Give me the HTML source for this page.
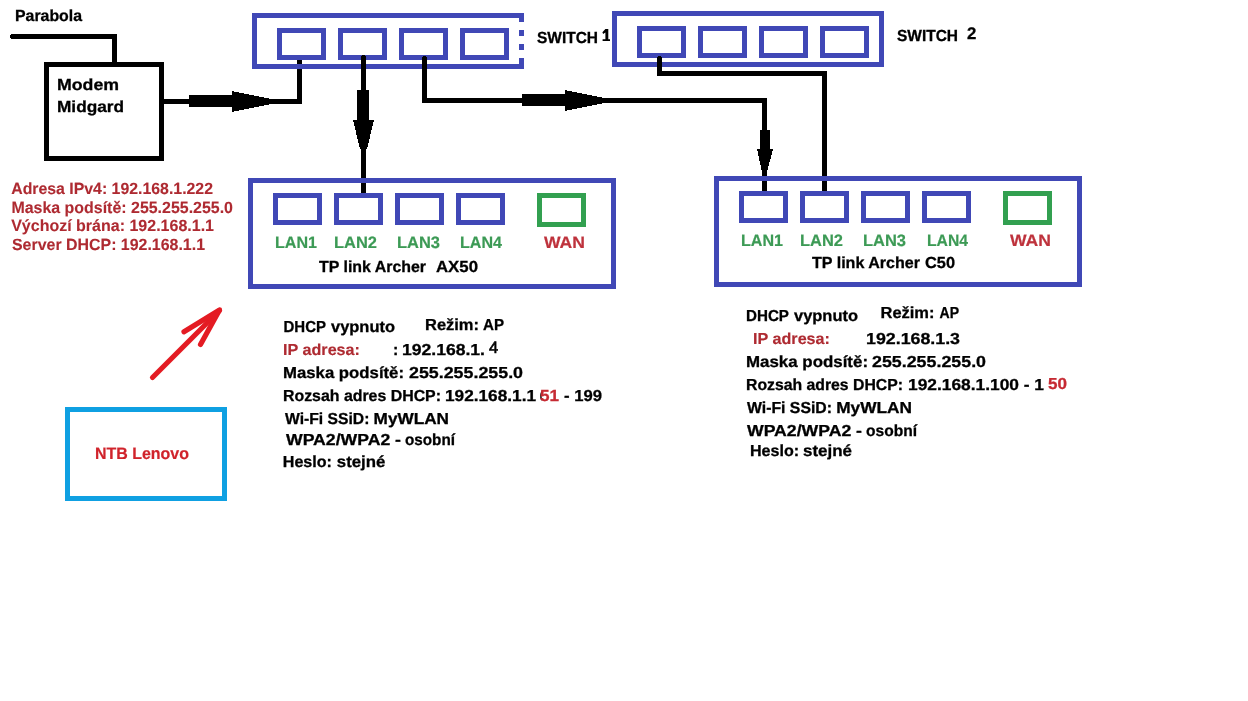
<!DOCTYPE html>
<html><head><meta charset="utf-8"><style>
html,body{margin:0;padding:0;background:#fff;}
svg{display:block;position:absolute;left:0;top:0;}
.tl{will-change:transform;}
text{white-space:pre;}
</style></head><body>
<svg width="1248" height="701" viewBox="0 0 1248 701" shape-rendering="crispEdges">
<rect width="1248" height="701" fill="#fff"/>
<rect x="11" y="34" width="106" height="5" fill="#000"/>
<rect x="10" y="35" width="1" height="3" fill="#000"/>
<rect x="112" y="34" width="5" height="29" fill="#000"/>
<rect x="44" y="62" width="120" height="5" fill="#000"/>
<rect x="44" y="156" width="120" height="5" fill="#000"/>
<rect x="44" y="62" width="5" height="99" fill="#000"/>
<rect x="159" y="62" width="5" height="99" fill="#000"/>
<rect x="164" y="99" width="138" height="5" fill="#000"/>
<rect x="189" y="95" width="44" height="12" fill="#000"/>
<polygon points="232,91 271,99 271,104 232,112" fill="#000"/>
<rect x="297" y="58" width="5" height="46" fill="#000"/>
<rect x="298" y="57" width="3" height="1" fill="#000"/>
<rect x="252" y="13" width="272" height="5" fill="#4048B6"/>
<rect x="252" y="64" width="272" height="5" fill="#4048B6"/>
<rect x="252" y="13" width="5" height="56" fill="#4048B6"/>
<rect x="519" y="13" width="5" height="9" fill="#4048B6"/>
<rect x="519" y="30" width="5" height="5.5" fill="#4048B6"/>
<rect x="519" y="44" width="5" height="5.5" fill="#4048B6"/>
<rect x="519" y="58" width="5" height="11" fill="#4048B6"/>
<rect x="277" y="28" width="49" height="5" fill="#4048B6"/>
<rect x="277" y="55" width="49" height="5" fill="#4048B6"/>
<rect x="277" y="28" width="5" height="32" fill="#4048B6"/>
<rect x="321" y="28" width="5" height="32" fill="#4048B6"/>
<rect x="338" y="28" width="49" height="5" fill="#4048B6"/>
<rect x="338" y="55" width="49" height="5" fill="#4048B6"/>
<rect x="338" y="28" width="5" height="32" fill="#4048B6"/>
<rect x="382" y="28" width="5" height="32" fill="#4048B6"/>
<rect x="399" y="28" width="49" height="5" fill="#4048B6"/>
<rect x="399" y="55" width="49" height="5" fill="#4048B6"/>
<rect x="399" y="28" width="5" height="32" fill="#4048B6"/>
<rect x="443" y="28" width="5" height="32" fill="#4048B6"/>
<rect x="460" y="28" width="49" height="5" fill="#4048B6"/>
<rect x="460" y="55" width="49" height="5" fill="#4048B6"/>
<rect x="460" y="28" width="5" height="32" fill="#4048B6"/>
<rect x="504" y="28" width="5" height="32" fill="#4048B6"/>
<rect x="361" y="56" width="5" height="140" fill="#000"/>
<rect x="362" y="55" width="3" height="1" fill="#000"/>
<rect x="362" y="196" width="3" height="1" fill="#000"/>
<rect x="357" y="90" width="12" height="31" fill="#000"/>
<polygon points="353,120 374,120 367,149 360,149" fill="#000"/>
<rect x="422" y="57" width="5" height="46" fill="#000"/>
<rect x="423" y="56" width="3" height="1" fill="#000"/>
<rect x="422" y="98" width="345" height="5" fill="#000"/>
<rect x="522" y="94" width="44" height="12" fill="#000"/>
<polygon points="565,90 604,98 604,103 565,111" fill="#000"/>
<rect x="762" y="98" width="5" height="95" fill="#000"/>
<rect x="763" y="193" width="3" height="1" fill="#000"/>
<rect x="760" y="130" width="10" height="20" fill="#000"/>
<polygon points="757,149 773,149 767,172 762,172" fill="#000"/>
<rect x="612" y="11" width="272" height="5" fill="#4048B6"/>
<rect x="612" y="62" width="272" height="5" fill="#4048B6"/>
<rect x="612" y="11" width="5" height="56" fill="#4048B6"/>
<rect x="879" y="11" width="5" height="56" fill="#4048B6"/>
<rect x="637" y="26" width="49" height="5" fill="#4048B6"/>
<rect x="637" y="53" width="49" height="5" fill="#4048B6"/>
<rect x="637" y="26" width="5" height="32" fill="#4048B6"/>
<rect x="681" y="26" width="5" height="32" fill="#4048B6"/>
<rect x="698" y="26" width="49" height="5" fill="#4048B6"/>
<rect x="698" y="53" width="49" height="5" fill="#4048B6"/>
<rect x="698" y="26" width="5" height="32" fill="#4048B6"/>
<rect x="742" y="26" width="5" height="32" fill="#4048B6"/>
<rect x="759" y="26" width="49" height="5" fill="#4048B6"/>
<rect x="759" y="53" width="49" height="5" fill="#4048B6"/>
<rect x="759" y="26" width="5" height="32" fill="#4048B6"/>
<rect x="803" y="26" width="5" height="32" fill="#4048B6"/>
<rect x="820" y="26" width="49" height="5" fill="#4048B6"/>
<rect x="820" y="53" width="49" height="5" fill="#4048B6"/>
<rect x="820" y="26" width="5" height="32" fill="#4048B6"/>
<rect x="864" y="26" width="5" height="32" fill="#4048B6"/>
<rect x="657" y="57" width="5" height="19" fill="#000"/>
<rect x="658" y="56" width="3" height="1" fill="#000"/>
<rect x="657" y="71" width="170" height="5" fill="#000"/>
<rect x="822" y="71" width="5" height="122" fill="#000"/>
<rect x="823" y="193" width="3" height="1" fill="#000"/>
<rect x="248" y="178" width="368" height="5" fill="#4048B6"/>
<rect x="248" y="284" width="368" height="5" fill="#4048B6"/>
<rect x="248" y="178" width="5" height="111" fill="#4048B6"/>
<rect x="611" y="178" width="5" height="111" fill="#4048B6"/>
<rect x="273" y="193" width="49" height="5" fill="#4048B6"/>
<rect x="273" y="220" width="49" height="5" fill="#4048B6"/>
<rect x="273" y="193" width="5" height="32" fill="#4048B6"/>
<rect x="317" y="193" width="5" height="32" fill="#4048B6"/>
<rect x="334" y="193" width="49" height="5" fill="#4048B6"/>
<rect x="334" y="220" width="49" height="5" fill="#4048B6"/>
<rect x="334" y="193" width="5" height="32" fill="#4048B6"/>
<rect x="378" y="193" width="5" height="32" fill="#4048B6"/>
<rect x="395" y="193" width="49" height="5" fill="#4048B6"/>
<rect x="395" y="220" width="49" height="5" fill="#4048B6"/>
<rect x="395" y="193" width="5" height="32" fill="#4048B6"/>
<rect x="439" y="193" width="5" height="32" fill="#4048B6"/>
<rect x="456" y="193" width="49" height="5" fill="#4048B6"/>
<rect x="456" y="220" width="49" height="5" fill="#4048B6"/>
<rect x="456" y="193" width="5" height="32" fill="#4048B6"/>
<rect x="500" y="193" width="5" height="32" fill="#4048B6"/>
<rect x="537" y="193" width="49" height="5" fill="#32A050"/>
<rect x="537" y="222" width="49" height="5" fill="#32A050"/>
<rect x="537" y="193" width="5" height="34" fill="#32A050"/>
<rect x="581" y="193" width="5" height="34" fill="#32A050"/>
<rect x="714" y="176" width="368" height="5" fill="#4048B6"/>
<rect x="714" y="282" width="368" height="5" fill="#4048B6"/>
<rect x="714" y="176" width="5" height="111" fill="#4048B6"/>
<rect x="1077" y="176" width="5" height="111" fill="#4048B6"/>
<rect x="739" y="191" width="49" height="5" fill="#4048B6"/>
<rect x="739" y="218" width="49" height="5" fill="#4048B6"/>
<rect x="739" y="191" width="5" height="32" fill="#4048B6"/>
<rect x="783" y="191" width="5" height="32" fill="#4048B6"/>
<rect x="800" y="191" width="49" height="5" fill="#4048B6"/>
<rect x="800" y="218" width="49" height="5" fill="#4048B6"/>
<rect x="800" y="191" width="5" height="32" fill="#4048B6"/>
<rect x="844" y="191" width="5" height="32" fill="#4048B6"/>
<rect x="861" y="191" width="49" height="5" fill="#4048B6"/>
<rect x="861" y="218" width="49" height="5" fill="#4048B6"/>
<rect x="861" y="191" width="5" height="32" fill="#4048B6"/>
<rect x="905" y="191" width="5" height="32" fill="#4048B6"/>
<rect x="922" y="191" width="49" height="5" fill="#4048B6"/>
<rect x="922" y="218" width="49" height="5" fill="#4048B6"/>
<rect x="922" y="191" width="5" height="32" fill="#4048B6"/>
<rect x="966" y="191" width="5" height="32" fill="#4048B6"/>
<rect x="1003" y="191" width="49" height="5" fill="#32A050"/>
<rect x="1003" y="220" width="49" height="5" fill="#32A050"/>
<rect x="1003" y="191" width="5" height="34" fill="#32A050"/>
<rect x="1047" y="191" width="5" height="34" fill="#32A050"/>
<rect x="65" y="407" width="162" height="5" fill="#0FA0E2"/>
<rect x="65" y="496" width="162" height="5" fill="#0FA0E2"/>
<rect x="65" y="407" width="5" height="94" fill="#0FA0E2"/>
<rect x="222" y="407" width="5" height="94" fill="#0FA0E2"/>
<path shape-rendering="auto" d="M605.4,28.9 L608.3,28.9 L608.3,39.2 L610,39.2 L610,41 L602.6,41 L602.6,39.2 L605.4,39.2 L605.4,32.6 L603.1,34.1 L602.4,32.3 Z" fill="#000"/>
<path shape-rendering="auto" d="M542.5,391 Q539.6,395.5 541.8,400.2" stroke="#111" stroke-width="1.6" fill="none"/>
<g shape-rendering="auto" stroke="#E41B23" stroke-width="5.2" stroke-linecap="round" stroke-linejoin="round" fill="none"><path d="M152.5,377.5 L219.5,310.5"/><path d="M184,331.8 L219.5,310 L200.5,344.5"/></g>
<polygon shape-rendering="auto" points="222,307.5 209,316 215,321" fill="#E41B23"/>
</svg>
<svg class="tl" width="1248" height="701" viewBox="0 0 1248 701">
<g text-rendering="geometricPrecision">
<text x="15.00" y="20.8" font-size="16.00" fill="#000" stroke="#000" stroke-width="0.3" font-weight="bold" font-family="Liberation Sans" textLength="67.00" lengthAdjust="spacingAndGlyphs" id="t0">Parabola</text>
<text x="57.00" y="89.6" font-size="16.00" fill="#000" stroke="#000" stroke-width="0.3" font-weight="bold" font-family="Liberation Sans" textLength="62.00" lengthAdjust="spacingAndGlyphs" id="t1">Modem</text>
<text x="57.00" y="112.2" font-size="16.00" fill="#000" stroke="#000" stroke-width="0.3" font-weight="bold" font-family="Liberation Sans" textLength="67.00" lengthAdjust="spacingAndGlyphs" id="t2">Midgard</text>
<text x="537.00" y="42.7" font-size="16.00" fill="#000" stroke="#000" stroke-width="0.3" font-weight="bold" font-family="Liberation Sans" textLength="61.00" lengthAdjust="spacingAndGlyphs" id="t3">SWITCH</text>
<text x="897.00" y="40.8" font-size="16.00" fill="#000" stroke="#000" stroke-width="0.3" font-weight="bold" font-family="Liberation Sans" textLength="61.00" lengthAdjust="spacingAndGlyphs" id="t4">SWITCH</text>
<text x="967.00" y="38.8" font-size="16.80" fill="#000" stroke="#000" stroke-width="0.3" font-weight="bold" font-family="Liberation Sans"  id="t5">2</text>
<text x="11.20" y="193.6" font-size="16.20" fill="#AE2A31" stroke="#AE2A31" stroke-width="0.1" font-weight="bold" font-family="Liberation Sans" textLength="201.80" lengthAdjust="spacingAndGlyphs" id="t6">Adresa IPv4: 192.168.1.222</text>
<text x="11.40" y="212.7" font-size="16.20" fill="#AE2A31" stroke="#AE2A31" stroke-width="0.1" font-weight="bold" font-family="Liberation Sans" textLength="221.60" lengthAdjust="spacingAndGlyphs" id="t7">Maska podsítě: 255.255.255.0</text>
<text x="11.20" y="231.2" font-size="16.20" fill="#AE2A31" stroke="#AE2A31" stroke-width="0.1" font-weight="bold" font-family="Liberation Sans" textLength="202.80" lengthAdjust="spacingAndGlyphs" id="t8">Výchozí brána: 192.168.1.1</text>
<text x="12.00" y="249.8" font-size="16.20" fill="#AE2A31" stroke="#AE2A31" stroke-width="0.1" font-weight="bold" font-family="Liberation Sans" textLength="193.00" lengthAdjust="spacingAndGlyphs" id="t9">Server DHCP: 192.168.1.1</text>
<text x="275.00" y="247.9" font-size="16.40" fill="#3C9A55" stroke="#3C9A55" stroke-width="0.2" font-weight="bold" font-family="Liberation Sans" textLength="42.00" lengthAdjust="spacingAndGlyphs" id="t10">LAN1</text>
<text x="334.00" y="247.9" font-size="16.40" fill="#3C9A55" stroke="#3C9A55" stroke-width="0.2" font-weight="bold" font-family="Liberation Sans" textLength="43.00" lengthAdjust="spacingAndGlyphs" id="t11">LAN2</text>
<text x="397.00" y="247.9" font-size="16.40" fill="#3C9A55" stroke="#3C9A55" stroke-width="0.2" font-weight="bold" font-family="Liberation Sans" textLength="43.00" lengthAdjust="spacingAndGlyphs" id="t12">LAN3</text>
<text x="460.00" y="247.9" font-size="16.40" fill="#3C9A55" stroke="#3C9A55" stroke-width="0.2" font-weight="bold" font-family="Liberation Sans" textLength="42.00" lengthAdjust="spacingAndGlyphs" id="t13">LAN4</text>
<text x="544.00" y="248" font-size="16.40" fill="#BE323C" stroke="#BE323C" stroke-width="0.2" font-weight="bold" font-family="Liberation Sans" textLength="41.00" lengthAdjust="spacingAndGlyphs" id="t14">WAN</text>
<text x="319.00" y="271.5" font-size="16.00" fill="#000" stroke="#000" stroke-width="0.3" font-weight="bold" font-family="Liberation Sans" textLength="107.00" lengthAdjust="spacingAndGlyphs" id="t15">TP link Archer</text>
<text x="436.00" y="271.5" font-size="16.00" fill="#000" stroke="#000" stroke-width="0.3" font-weight="bold" font-family="Liberation Sans" textLength="42.00" lengthAdjust="spacingAndGlyphs" id="t16">AX50</text>
<text x="741.00" y="245.8" font-size="16.40" fill="#3C9A55" stroke="#3C9A55" stroke-width="0.2" font-weight="bold" font-family="Liberation Sans" textLength="42.00" lengthAdjust="spacingAndGlyphs" id="t17">LAN1</text>
<text x="800.00" y="245.8" font-size="16.40" fill="#3C9A55" stroke="#3C9A55" stroke-width="0.2" font-weight="bold" font-family="Liberation Sans" textLength="43.00" lengthAdjust="spacingAndGlyphs" id="t18">LAN2</text>
<text x="863.00" y="245.8" font-size="16.40" fill="#3C9A55" stroke="#3C9A55" stroke-width="0.2" font-weight="bold" font-family="Liberation Sans" textLength="43.00" lengthAdjust="spacingAndGlyphs" id="t19">LAN3</text>
<text x="927.00" y="245.8" font-size="16.40" fill="#3C9A55" stroke="#3C9A55" stroke-width="0.2" font-weight="bold" font-family="Liberation Sans" textLength="41.00" lengthAdjust="spacingAndGlyphs" id="t20">LAN4</text>
<text x="1010.00" y="245.8" font-size="16.40" fill="#BE323C" stroke="#BE323C" stroke-width="0.2" font-weight="bold" font-family="Liberation Sans" textLength="41.00" lengthAdjust="spacingAndGlyphs" id="t21">WAN</text>
<text x="812.00" y="267.6" font-size="16.00" fill="#000" stroke="#000" stroke-width="0.3" font-weight="bold" font-family="Liberation Sans" textLength="108.00" lengthAdjust="spacingAndGlyphs" id="t22">TP link Archer</text>
<text x="925.00" y="267.6" font-size="16.00" fill="#000" stroke="#000" stroke-width="0.3" font-weight="bold" font-family="Liberation Sans" textLength="30.00" lengthAdjust="spacingAndGlyphs" id="t23">C50</text>
<text x="283.50" y="331.7" font-size="15.90" fill="#000" stroke="#000" stroke-width="0.3" font-weight="bold" font-family="Liberation Sans" textLength="42.50" lengthAdjust="spacingAndGlyphs" id="t24">DHCP</text>
<text x="331.00" y="331.7" font-size="15.90" fill="#000" stroke="#000" stroke-width="0.3" font-weight="bold" font-family="Liberation Sans" textLength="64.00" lengthAdjust="spacingAndGlyphs" id="t25">vypnuto</text>
<text x="425.00" y="330.1" font-size="15.90" fill="#000" stroke="#000" stroke-width="0.3" font-weight="bold" font-family="Liberation Sans" textLength="54.00" lengthAdjust="spacingAndGlyphs" id="t26">Režim:</text>
<text x="483.00" y="330.1" font-size="15.90" fill="#000" stroke="#000" stroke-width="0.3" font-weight="bold" font-family="Liberation Sans" textLength="21.00" lengthAdjust="spacingAndGlyphs" id="t27">AP</text>
<text x="283.00" y="354.5" font-size="15.90" fill="#AE2A31" stroke="#AE2A31" stroke-width="0.15" font-weight="bold" font-family="Liberation Sans" textLength="77.00" lengthAdjust="spacingAndGlyphs" id="t28">IP adresa:</text>
<text x="393.00" y="354.5" font-size="15.90" fill="#000" stroke="#000" stroke-width="0.3" font-weight="bold" font-family="Liberation Sans"  id="t29">:</text>
<text x="402.00" y="354.5" font-size="15.90" fill="#000" stroke="#000" stroke-width="0.3" font-weight="bold" font-family="Liberation Sans" textLength="83.00" lengthAdjust="spacingAndGlyphs" id="t30">192.168.1.</text>
<text x="489.00" y="352.8" font-size="16.50" fill="#000" stroke="#000" stroke-width="0.6" font-weight="normal" font-family="Liberation Sans"  id="t31">4</text>
<text x="283.00" y="377.5" font-size="15.90" fill="#000" stroke="#000" stroke-width="0.3" font-weight="bold" font-family="Liberation Sans" textLength="121.00" lengthAdjust="spacingAndGlyphs" id="t32">Maska podsítě:</text>
<text x="409.00" y="377.5" font-size="15.90" fill="#000" stroke="#000" stroke-width="0.3" font-weight="bold" font-family="Liberation Sans" textLength="114.00" lengthAdjust="spacingAndGlyphs" id="t33">255.255.255.0</text>
<text x="283.00" y="400.8" font-size="15.90" fill="#000" stroke="#000" stroke-width="0.3" font-weight="bold" font-family="Liberation Sans" textLength="158.00" lengthAdjust="spacingAndGlyphs" id="t34">Rozsah adres DHCP:</text>
<text x="445.00" y="400.8" font-size="15.90" fill="#000" stroke="#000" stroke-width="0.3" font-weight="bold" font-family="Liberation Sans" textLength="91.00" lengthAdjust="spacingAndGlyphs" id="t35">192.168.1.1</text>
<text x="540.00" y="400.8" font-size="16.00" fill="#C62A33" stroke="#C62A33" stroke-width="0.3" font-weight="bold" font-family="Liberation Sans" textLength="19.00" lengthAdjust="spacingAndGlyphs" id="t36">51</text>
<text x="564.00" y="400.8" font-size="15.90" fill="#000" stroke="#000" stroke-width="0.3" font-weight="bold" font-family="Liberation Sans" textLength="38.00" lengthAdjust="spacingAndGlyphs" id="t37">- 199</text>
<text x="285.00" y="423.5" font-size="15.90" fill="#000" stroke="#000" stroke-width="0.3" font-weight="bold" font-family="Liberation Sans" textLength="84.40" lengthAdjust="spacingAndGlyphs" id="t38">Wi-Fi SSiD:</text>
<text x="373.60" y="423.5" font-size="15.90" fill="#000" stroke="#000" stroke-width="0.3" font-weight="bold" font-family="Liberation Sans" textLength="75.40" lengthAdjust="spacingAndGlyphs" id="t39">MyWLAN</text>
<text x="286.00" y="445.1" font-size="15.90" fill="#000" stroke="#000" stroke-width="0.3" font-weight="bold" font-family="Liberation Sans" textLength="115.00" lengthAdjust="spacingAndGlyphs" id="t40">WPA2/WPA2 -</text>
<text x="405.00" y="445.1" font-size="15.90" fill="#000" stroke="#000" stroke-width="0.3" font-weight="bold" font-family="Liberation Sans" textLength="50.00" lengthAdjust="spacingAndGlyphs" id="t41">osobní</text>
<text x="282.80" y="466.5" font-size="15.90" fill="#000" stroke="#000" stroke-width="0.3" font-weight="bold" font-family="Liberation Sans" textLength="49.20" lengthAdjust="spacingAndGlyphs" id="t42">Heslo:</text>
<text x="336.80" y="466.5" font-size="15.90" fill="#000" stroke="#000" stroke-width="0.3" font-weight="bold" font-family="Liberation Sans" textLength="48.60" lengthAdjust="spacingAndGlyphs" id="t43">stejné</text>
<text x="95.00" y="458.6" font-size="16.50" fill="#D0232B" stroke="#D0232B" stroke-width="0.2" font-weight="bold" font-family="Liberation Sans" textLength="94.00" lengthAdjust="spacingAndGlyphs" id="t44">NTB Lenovo</text>
<text x="746.00" y="320.5" font-size="15.90" fill="#000" stroke="#000" stroke-width="0.3" font-weight="bold" font-family="Liberation Sans" textLength="43.00" lengthAdjust="spacingAndGlyphs" id="t45">DHCP</text>
<text x="794.00" y="320.5" font-size="15.90" fill="#000" stroke="#000" stroke-width="0.3" font-weight="bold" font-family="Liberation Sans" textLength="64.00" lengthAdjust="spacingAndGlyphs" id="t46">vypnuto</text>
<text x="880.50" y="317.9" font-size="15.90" fill="#000" stroke="#000" stroke-width="0.3" font-weight="bold" font-family="Liberation Sans" textLength="54.00" lengthAdjust="spacingAndGlyphs" id="t47">Režim:</text>
<text x="939.50" y="317.9" font-size="15.90" fill="#000" stroke="#000" stroke-width="0.3" font-weight="bold" font-family="Liberation Sans" textLength="19.50" lengthAdjust="spacingAndGlyphs" id="t48">AP</text>
<text x="753.00" y="343.7" font-size="15.90" fill="#AE2A31" stroke="#AE2A31" stroke-width="0.15" font-weight="bold" font-family="Liberation Sans" textLength="77.00" lengthAdjust="spacingAndGlyphs" id="t49">IP adresa:</text>
<text x="866.00" y="343.8" font-size="15.90" fill="#000" stroke="#000" stroke-width="0.3" font-weight="bold" font-family="Liberation Sans" textLength="94.00" lengthAdjust="spacingAndGlyphs" id="t50">192.168.1.3</text>
<text x="746.00" y="366.8" font-size="15.90" fill="#000" stroke="#000" stroke-width="0.3" font-weight="bold" font-family="Liberation Sans" textLength="122.00" lengthAdjust="spacingAndGlyphs" id="t51">Maska podsítě:</text>
<text x="872.00" y="366.8" font-size="15.90" fill="#000" stroke="#000" stroke-width="0.3" font-weight="bold" font-family="Liberation Sans" textLength="114.00" lengthAdjust="spacingAndGlyphs" id="t52">255.255.255.0</text>
<text x="746.00" y="389.5" font-size="15.90" fill="#000" stroke="#000" stroke-width="0.3" font-weight="bold" font-family="Liberation Sans" textLength="157.00" lengthAdjust="spacingAndGlyphs" id="t53">Rozsah adres DHCP:</text>
<text x="908.00" y="389.5" font-size="15.90" fill="#000" stroke="#000" stroke-width="0.3" font-weight="bold" font-family="Liberation Sans" textLength="136.00" lengthAdjust="spacingAndGlyphs" id="t54">192.168.1.100 - 1</text>
<text x="1048.00" y="388.8" font-size="15.90" fill="#C62A33" stroke="#C62A33" stroke-width="0.3" font-weight="bold" font-family="Liberation Sans" textLength="19.00" lengthAdjust="spacingAndGlyphs" id="t55">50</text>
<text x="747.00" y="412.6" font-size="15.90" fill="#000" stroke="#000" stroke-width="0.3" font-weight="bold" font-family="Liberation Sans" textLength="85.00" lengthAdjust="spacingAndGlyphs" id="t56">Wi-Fi SSiD:</text>
<text x="836.20" y="412.6" font-size="15.90" fill="#000" stroke="#000" stroke-width="0.3" font-weight="bold" font-family="Liberation Sans" textLength="75.80" lengthAdjust="spacingAndGlyphs" id="t57">MyWLAN</text>
<text x="747.00" y="436.4" font-size="15.90" fill="#000" stroke="#000" stroke-width="0.3" font-weight="bold" font-family="Liberation Sans" textLength="115.00" lengthAdjust="spacingAndGlyphs" id="t58">WPA2/WPA2 -</text>
<text x="866.00" y="436.4" font-size="15.90" fill="#000" stroke="#000" stroke-width="0.3" font-weight="bold" font-family="Liberation Sans" textLength="51.00" lengthAdjust="spacingAndGlyphs" id="t59">osobní</text>
<text x="750.00" y="455.6" font-size="15.90" fill="#000" stroke="#000" stroke-width="0.3" font-weight="bold" font-family="Liberation Sans" textLength="49.20" lengthAdjust="spacingAndGlyphs" id="t60">Heslo:</text>
<text x="803.00" y="455.6" font-size="15.90" fill="#000" stroke="#000" stroke-width="0.3" font-weight="bold" font-family="Liberation Sans" textLength="49.00" lengthAdjust="spacingAndGlyphs" id="t61">stejné</text>
</g>
</svg>
</body></html>
